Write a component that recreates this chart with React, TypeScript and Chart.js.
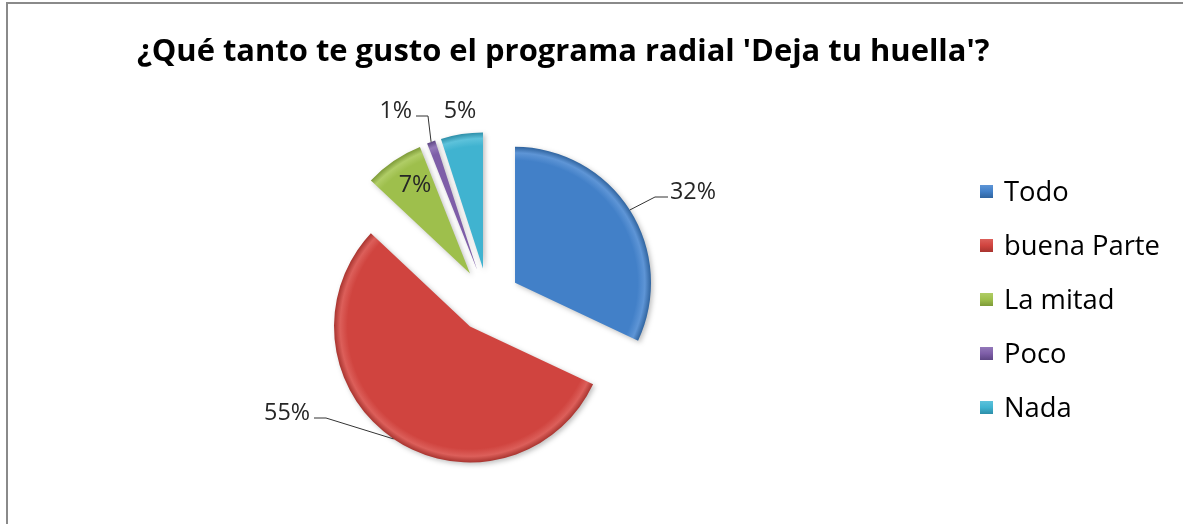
import React, { useEffect, useRef } from 'react';
import { Chart, registerables } from 'chart.js';

Chart.register(...registerables);

// ---- data ----
const chartTitle = "¿Qué tanto te gusto el programa radial 'Deja tu huella'?";
const categories = ['Todo', 'buena Parte', 'La mitad', 'Poco', 'Nada'];
const values = [32, 55, 7, 1, 5];
const percentLabels = ['32%', '55%', '7%', '1%', '5%'];

// ---- style ----
const sliceColors = ['#4280C8', '#D0443F', '#9EBF4C', '#7E5EA8', '#40B3D0'];
const sliceLight = ['#5E95D6', '#DC5F5A', '#B0CD66', '#9378B9', '#5DC2DB'];
const sliceDark = ['#30649F', '#A8342F', '#7D9A38', '#5E4684', '#2D8EA8'];
const EXPLODE = 32;
const RADIUS = 136;
const FONT = '"Open Sans", "Noto Sans", sans-serif';

// label placement relative to the pie centre
const labelLayout = [
  { dx: 182, dy: -108, align: 'left', leader: true },
  { dx: -178, dy: 113, align: 'right', leader: true },
  { dx: -73, dy: -115, align: 'center', leader: false },
  { dx: -76, dy: -189, align: 'right', leader: true },
  { dx: -28, dy: -189, align: 'center', leader: false },
];

function fitSize(ctx: CanvasRenderingContext2D, text: string, weight: string, target: number) {
  ctx.font = `${weight} 20px ${FONT}`;
  const w = ctx.measureText(text).width;
  return (20 * target) / w;
}

const explodePlugin = {
  id: 'explodeSlices',
  beforeDatasetDraw(chart: any, args: any) {
    const ctx: CanvasRenderingContext2D = chart.ctx;
    const meta = args.meta;
    ctx.save();
    ctx.shadowColor = 'rgba(0,0,0,0.25)';
    ctx.shadowBlur = 5;
    ctx.shadowOffsetX = 2;
    ctx.shadowOffsetY = 2;
    meta.data.forEach((arc: any) => {
      const a = (arc.startAngle + arc.endAngle) / 2;
      ctx.save();
      ctx.translate(Math.cos(a) * EXPLODE, Math.sin(a) * EXPLODE);
      arc.draw(ctx);
      ctx.restore();
    });
    ctx.restore();
    return false;
  },
};

const decorPlugin = {
  id: 'decor',
  beforeDraw(chart: any) {
    const ctx: CanvasRenderingContext2D = chart.ctx;
    ctx.save();
    ctx.strokeStyle = '#8A8A8A';
    ctx.lineWidth = 2;
    ctx.beginPath();
    ctx.moveTo(7, chart.height);
    ctx.lineTo(7, 3);
    ctx.lineTo(chart.width, 3);
    ctx.stroke();
    ctx.restore();
  },
  afterDraw(chart: any) {
    const ctx: CanvasRenderingContext2D = chart.ctx;
    const ca = chart.chartArea;
    const cx = (ca.left + ca.right) / 2;
    const cy = (ca.top + ca.bottom) / 2;
    ctx.save();

    // title
    const ts = fitSize(ctx, chartTitle, 'bold', 853);
    ctx.font = `bold ${ts}px ${FONT}`;
    ctx.fillStyle = '#000';
    ctx.textAlign = 'left';
    ctx.textBaseline = 'middle';
    ctx.fillText(chartTitle, 137, 52);

    // data labels
    const meta = chart.getDatasetMeta(0);
    const ls = fitSize(ctx, '32%', 'normal', 46);
    ctx.font = `${ls}px ${FONT}`;
    meta.data.forEach((arc: any, i: number) => {
      const lay = labelLayout[i];
      const tx = cx + lay.dx;
      const ty = cy + lay.dy;
      ctx.fillStyle = '#262626';
      ctx.textAlign = lay.align as CanvasTextAlign;
      ctx.textBaseline = 'middle';
      ctx.fillText(percentLabels[i], tx, ty);
      if (lay.leader) {
        const a = (arc.startAngle + arc.endAngle) / 2;
        const ax = arc.x + Math.cos(a) * (EXPLODE + arc.outerRadius);
        const ay = arc.y + Math.sin(a) * (EXPLODE + arc.outerRadius);
        const ly = ty + 5;
        const x0 = lay.align === 'left' ? tx - 2 : tx + 4;
        const x1 = lay.align === 'left' ? tx - 15 : tx + 16;
        ctx.strokeStyle = '#333';
        ctx.lineWidth = 1;
        ctx.beginPath();
        ctx.moveTo(x0, ly);
        ctx.lineTo(x1, ly);
        ctx.lineTo(ax, ay);
        ctx.stroke();
      }
    });

    // legend
    const gs = fitSize(ctx, 'buena Parte', 'normal', 156);
    ctx.font = `${gs}px ${FONT}`;
    categories.forEach((name, i) => {
      const y = 192 + i * 54;
      const g = ctx.createLinearGradient(0, y - 7, 0, y + 6);
      g.addColorStop(0, sliceLight[i]);
      g.addColorStop(0.5, sliceColors[i]);
      g.addColorStop(1, sliceDark[i]);
      ctx.fillStyle = g;
      ctx.fillRect(980, y - 7, 13, 13);
      ctx.fillStyle = '#000';
      ctx.textAlign = 'left';
      ctx.textBaseline = 'middle';
      ctx.fillText(name, 1004, y + 1);
    });
    ctx.restore();
  },
};

export default function App() {
  const ref = useRef<HTMLCanvasElement | null>(null);
  useEffect(() => {
    if (!ref.current) return;
    const chart = new Chart(ref.current, {
      type: 'pie',
      data: {
        labels: categories,
        datasets: [
          {
            data: values,
            borderWidth: 0,
            clip: false as any,
            backgroundColor: (c: any) => {
              const i = c.dataIndex;
              const ch = c.chart;
              const ca = ch.chartArea;
              if (!ca) return sliceColors[i];
              const x = (ca.left + ca.right) / 2;
              const y = (ca.top + ca.bottom) / 2;
              const g = ch.ctx.createRadialGradient(x, y, 0, x, y, RADIUS);
              g.addColorStop(0, sliceColors[i]);
              g.addColorStop(0.9, sliceColors[i]);
              g.addColorStop(0.955, sliceLight[i]);
              g.addColorStop(1, sliceDark[i]);
              return g;
            },
          },
        ],
      },
      options: {
        responsive: false,
        animation: false,
        events: [],
        radius: RADIUS,
        layout: { padding: { left: 200, right: 407, top: 100, bottom: 24 } },
        plugins: {
          legend: { display: false },
          title: { display: false },
          tooltip: { enabled: false },
        },
      } as any,
      plugins: [explodePlugin, decorPlugin],
    });
    return () => chart.destroy();
  }, []);
  return (
    <div style={{ position: 'fixed', left: 0, top: 0, width: 1183, height: 524, background: '#fff' }}>
      <canvas ref={ref} width={1183} height={524} style={{ display: 'block' }} />
    </div>
  );
}
